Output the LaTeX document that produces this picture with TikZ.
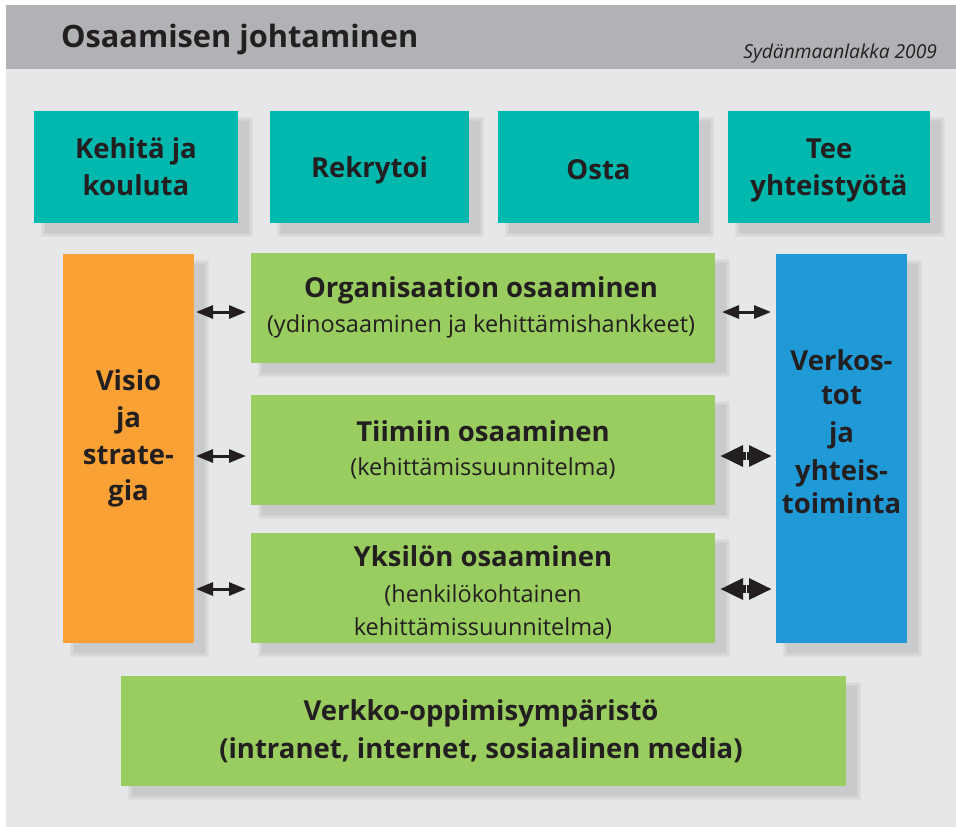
\documentclass[tikz,border=0pt]{standalone}
\usepackage{fontspec}
\setmainfont{Open Sans}
\usetikzlibrary{arrows.meta,calc}
\definecolor{hdr}{HTML}{B1B2B5}
\definecolor{bgc}{HTML}{E6E7E9}
\definecolor{tealc}{HTML}{00B8AD}
\definecolor{greenc}{HTML}{9ACD5F}
\definecolor{orangec}{HTML}{F9A135}
\definecolor{bluec}{HTML}{1F9AD6}
\definecolor{ink}{HTML}{231F20}
\pgfdeclarelayer{bglayer}
\pgfsetlayers{bglayer,main}
\tikzset{
  box/.style={draw=none, inner sep=0, outer sep=0},
  lbl/.style={inner sep=0, outer sep=0, text=ink, anchor=base},
  bt/.style={lbl, font=\bfseries\fontsize{27.5}{27.5}\selectfont},
  rt/.style={lbl, font=\fontsize{23.5}{23.5}\selectfont},
  thinarr/.style={{Triangle[length=17pt,width=13pt]}-{Triangle[length=17pt,width=13pt]}, line width=3pt, draw=ink},
  heavyarr/.style={-{Triangle[length=23pt,width=20pt]}, line width=8pt, draw=ink}
}
\newcommand\sdw[1]{\foreach \r in {4,2.7,1.3,0} {\fill[black,opacity=0.033] ($(#1.north west)+(11-\r,10-\r)$) rectangle ($(#1.south east)+(11+\r,10+\r)$);}}
\begin{document}
\begin{tikzpicture}[x=1pt,y=-1pt]
\useasboundingbox (0,0) rectangle (956,827);
\begin{pgfonlayer}{bglayer}
\fill[white] (0,0) rectangle (956,827);
\fill[bgc] (6,5) rectangle (956,827);
\fill[hdr] (6,5) rectangle (956,69);
\end{pgfonlayer}
\node[lbl, anchor=base west, font=\bfseries\fontsize{30.8}{30.8}\selectfont] (title) at (61,47) {Osaamisen johtaminen};
\node[lbl, anchor=base east, font=\itshape\fontsize{19.2}{19.2}\selectfont] (src) at (937,58) {Sydänmaanlakka 2009};
% top boxes
\node[box, fill=tealc, minimum width=204pt, minimum height=112pt] (k1) at (136,167) {};
\node[box, fill=tealc, minimum width=199pt, minimum height=112pt] (k2) at (369.5,167) {};
\node[box, fill=tealc, minimum width=201pt, minimum height=112pt] (k3) at (598.5,167) {};
\node[box, fill=tealc, minimum width=202pt, minimum height=112pt] (k4) at (829,167) {};
\node[bt] (k1a) at (136,158) {Kehitä ja};
\node[bt] (k1b) at (136,195) {kouluta};
\node[bt] (k2a) at (369.5,177) {Rekrytoi};
\node[bt] (k3a) at (598.5,179) {Osta};
\node[bt] (k4a) at (829,158) {Tee};
\node[bt] (k4b) at (829,195) {yhteistyötä};
% side boxes
\node[box, fill=orangec, minimum width=131pt, minimum height=389pt] (vis) at (128.5,448.5) {};
\node[box, fill=bluec, minimum width=131pt, minimum height=389pt] (net) at (841.5,448.5) {};
\node[bt] (v1) at (128.5,390) {Visio};
\node[bt] (v2) at (128.5,427) {ja};
\node[bt] (v3) at (128.5,464) {strate-};
\node[bt] (v4) at (128.5,500) {gia};
\node[bt] (n1) at (841.5,370) {Verkos-};
\node[bt] (n2) at (841.5,404) {tot};
\node[bt] (n3) at (841.5,442) {ja};
\node[bt] (n4) at (841.5,480) {yhteis-};
\node[bt] (n5) at (841.5,513) {toiminta};
% green boxes
\node[box, fill=greenc, minimum width=464pt, minimum height=110pt] (g1) at (483,308) {};
\node[box, fill=greenc, minimum width=464pt, minimum height=110pt] (g2) at (483,450) {};
\node[box, fill=greenc, minimum width=464pt, minimum height=110pt] (g3) at (483,588) {};
\node[bt] (g1a) at (481,297) {Organisaation osaaminen};
\node[rt] (g1b) at (481,332) {(ydinosaaminen ja kehittämishankkeet)};
\node[bt] (g2a) at (483,441) {Tiimiin osaaminen};
\node[rt] (g2b) at (483,475) {(kehittämissuunnitelma)};
\node[bt] (g3a) at (483,566) {Yksilön osaaminen};
\node[rt] (g3b) at (483,602) {(henkilökohtainen};
\node[rt] (g3c) at (483,635) {kehittämissuunnitelma)};
% bottom box
\node[box, fill=greenc, minimum width=725pt, minimum height=110pt] (web) at (483.5,731) {};
\node[bt] (w1) at (481,720) {Verkko-oppimisympäristö};
\node[bt] (w2) at (481,758) {(intranet, internet, sosiaalinen media)};
% shadows
\begin{pgfonlayer}{bglayer}
\sdw{k1}\sdw{k2}\sdw{k3}\sdw{k4}\sdw{vis}\sdw{net}\sdw{g1}\sdw{g2}\sdw{g3}\sdw{web}
\end{pgfonlayer}
% arrows
\coordinate (r1) at (0,312);
\coordinate (r2) at (0,456);
\coordinate (r3) at (0,589);
\coordinate (m2) at (746.5,456);
\coordinate (m3) at (746.5,589);
\draw[thinarr] ($(vis.east |- r1)+(2,0)$) -- ($(g1.west |- r1)+(-5,0)$);
\draw[thinarr] ($(vis.east |- r2)+(2,0)$) -- ($(g2.west |- r2)+(-5,0)$);
\draw[thinarr] ($(vis.east |- r3)+(2,0)$) -- ($(g3.west |- r3)+(-5,0)$);
\draw[thinarr] ($(g1.east |- r1)+(7,0)$) -- ($(net.west |- r1)+(-5,0)$);
\draw[heavyarr] ($(m2)+(-0.5,0)$) -- ($(g2.east |- r2)+(5,0)$);
\draw[heavyarr] ($(m2)+(0.5,0)$) -- ($(net.west |- r2)+(-4,0)$);
\draw[heavyarr] ($(m3)+(-0.5,0)$) -- ($(g3.east |- r3)+(5,0)$);
\draw[heavyarr] ($(m3)+(0.5,0)$) -- ($(net.west |- r3)+(-4,0)$);
\end{tikzpicture}
\end{document}
